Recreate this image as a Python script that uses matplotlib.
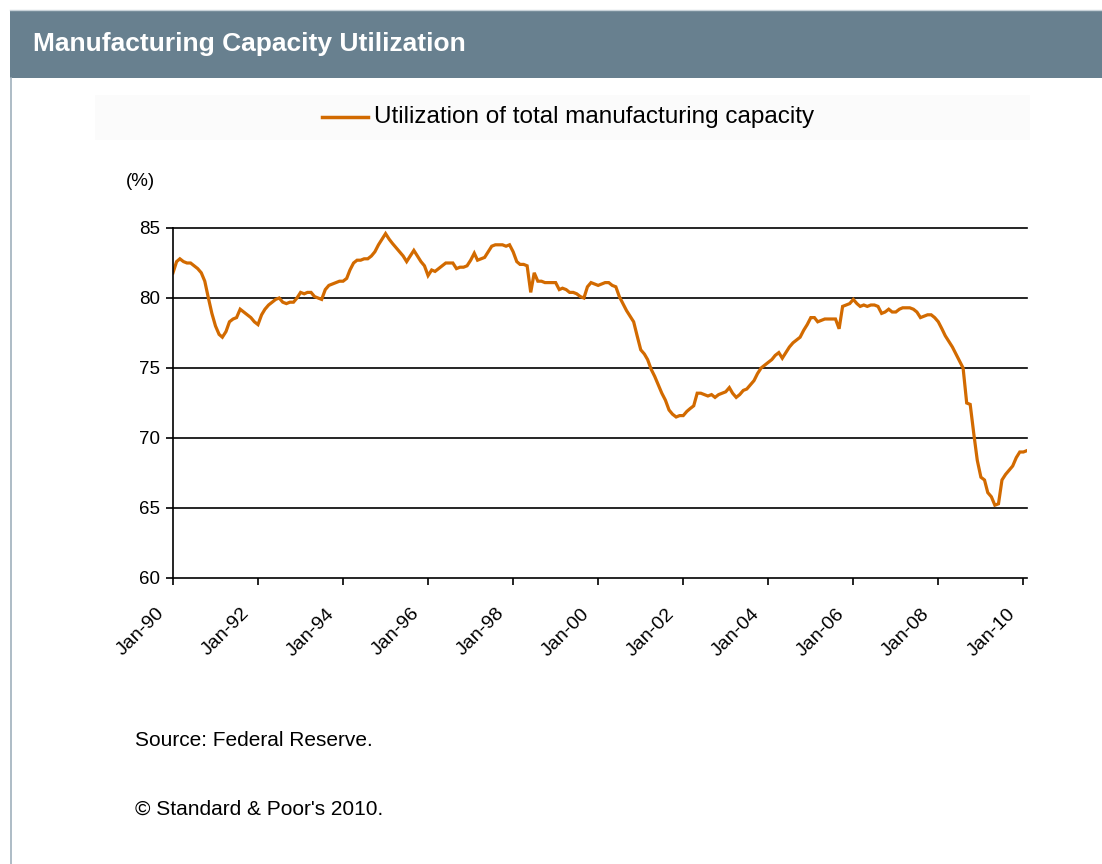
import matplotlib
matplotlib.use("Agg")
import matplotlib.pyplot as plt
from matplotlib.patches import Rectangle
import pandas as pd

plt.rcParams['font.family'] = ['Liberation Sans', 'DejaVu Sans']

title = "Manufacturing Capacity Utilization"
series_label = "Utilization of total manufacturing capacity"
source_text = "Source: Federal Reserve."
copyright_text = "\u00a9 Standard & Poor's 2010."
y_unit = "(%)"
start_month = "1990-01-01"

u1990 = [81.8, 82.6, 82.8, 82.6, 82.5, 82.5, 82.3, 82.1, 81.8, 81.2, 80.0, 78.9]
u1991 = [78.0, 77.4, 77.2, 77.6, 78.3, 78.5, 78.6, 79.2, 79.0, 78.8, 78.6, 78.3]
u1992 = [78.1, 78.8, 79.2, 79.5, 79.7, 79.9, 80.0, 79.7, 79.6, 79.7, 79.7, 80.0]
u1993 = [80.4, 80.3, 80.4, 80.4, 80.1, 80.0, 79.9, 80.6, 80.9, 81.0, 81.1, 81.2]
u1994 = [81.2, 81.4, 82.0, 82.5, 82.7, 82.7, 82.8, 82.8, 83.0, 83.3, 83.8, 84.2]
u1995 = [84.6, 84.2, 83.9, 83.6, 83.3, 83.0, 82.6, 83.0, 83.4, 83.0, 82.6, 82.3]
u1996 = [81.6, 82.0, 81.9, 82.1, 82.3, 82.5, 82.5, 82.5, 82.1, 82.2, 82.2, 82.3]
u1997 = [82.7, 83.2, 82.7, 82.8, 82.9, 83.3, 83.7, 83.8, 83.8, 83.8, 83.7, 83.8]
u1998 = [83.3, 82.6, 82.4, 82.4, 82.3, 80.4, 81.8, 81.2, 81.2, 81.1, 81.1, 81.1]
u1999 = [81.1, 80.6, 80.7, 80.6, 80.4, 80.4, 80.3, 80.1, 80.0, 80.8, 81.1, 81.0]
u2000 = [80.9, 81.0, 81.1, 81.1, 80.9, 80.8, 80.1, 79.6, 79.1, 78.7, 78.3, 77.3]
u2001 = [76.3, 76.0, 75.6, 74.9, 74.4, 73.8, 73.2, 72.7, 72.0, 71.7, 71.5, 71.6]
u2002 = [71.6, 71.9, 72.1, 72.3, 73.2, 73.2, 73.1, 73.0, 73.1, 72.9, 73.1, 73.2]
u2003 = [73.3, 73.6, 73.2, 72.9, 73.1, 73.4, 73.5, 73.8, 74.1, 74.6, 75.0, 75.2]
u2004 = [75.4, 75.6, 75.9, 76.1, 75.7, 76.1, 76.5, 76.8, 77.0, 77.2, 77.7, 78.1]
u2005 = [78.6, 78.6, 78.3, 78.4, 78.5, 78.5, 78.5, 78.5, 77.8, 79.4, 79.5, 79.6]
u2006 = [79.9, 79.6, 79.4, 79.5, 79.4, 79.5, 79.5, 79.4, 78.9, 79.0, 79.2, 79.0]
u2007 = [79.0, 79.2, 79.3, 79.3, 79.3, 79.2, 79.0, 78.6, 78.7, 78.8, 78.8, 78.6]
u2008 = [78.3, 77.8, 77.3, 76.9, 76.5, 76.0, 75.5, 75.0, 72.5, 72.4, 70.3, 68.4]
u2009 = [67.2, 67.0, 66.1, 65.8, 65.2, 65.3, 67.0, 67.4, 67.7, 68.0, 68.6, 69.0]
u2010 = [69.0, 69.1]

values = (u1990 + u1991 + u1992 + u1993 + u1994 + u1995 + u1996 + u1997 + u1998
          + u1999 + u2000 + u2001 + u2002 + u2003 + u2004 + u2005 + u2006 + u2007
          + u2008 + u2009 + u2010)
dates = pd.date_range(start_month, periods=len(values), freq="MS")

y_ticks = [60, 65, 70, 75, 80, 85]
tick_years = list(range(1990, 2011, 2))

W, H = 1102, 864
fig = plt.figure(figsize=(W / 100, H / 100), dpi=100)
fig.patch.set_facecolor("white")

# header bar and frame
fig.patches.append(Rectangle((10 / W, 1 - 78 / H), 1 - 10 / W, 68 / H,
                             transform=fig.transFigure, facecolor="#68808F",
                             edgecolor="none", zorder=0))
fig.lines.append(plt.Line2D([10.5 / W, 10.5 / W], [0, 1 - 78 / H],
                            transform=fig.transFigure, color="#9FB0BC", lw=1.2))
fig.lines.append(plt.Line2D([10 / W, 1], [1 - 9.5 / H, 1 - 9.5 / H],
                            transform=fig.transFigure, color="#C8D2D8", lw=1))
fig.text(33 / W, 1 - 44 / H, title, color="white", fontsize=19,
         fontweight="bold", va="center", ha="left")
# faint legend panel
fig.patches.append(Rectangle((95 / W, 1 - 140 / H), 935 / W, 45 / H,
                             transform=fig.transFigure, facecolor="#FBFBFB",
                             edgecolor="none", zorder=0))

ax = fig.add_axes([173 / W, 1 - 578 / H, 854 / W, 350 / H])
ax.set_facecolor("white")
ax.plot(dates, values, color="#D26A00", lw=2.3, solid_joinstyle="miter")

ax.set_ylim(60, 85)
ax.set_xlim(dates[0], dates[-1])
ax.set_yticks(y_ticks)
ax.set_yticklabels([str(v) for v in y_ticks], fontsize=13.5)
for v in y_ticks[1:]:
    ax.axhline(v, color="black", lw=1.2, zorder=1, clip_on=False)

xt = [pd.Timestamp(f"{y}-01-01") for y in tick_years]
ax.set_xticks(xt)
ax.set_xticklabels([])
for d in xt:
    ax.annotate(d.strftime("%b-%y"), xy=(d, 0), xycoords=("data", "axes fraction"),
                xytext=(-17, -27), textcoords="offset pixels", rotation=45,
                ha="right", va="top", rotation_mode="anchor", fontsize=14,
                annotation_clip=False)

for s in ["top", "right"]:
    ax.spines[s].set_visible(False)
for s in ["left", "bottom"]:
    ax.spines[s].set_color("black")
    ax.spines[s].set_linewidth(1.2)
ax.tick_params(axis="both", direction="out", length=5, width=1.2, color="black")
ax.tick_params(axis="y", pad=4)

# legend
fig.lines.append(plt.Line2D([322 / W, 368 / W], [1 - 117 / H, 1 - 117 / H],
                            transform=fig.transFigure, color="#D26A00", lw=2.5))
fig.text(374 / W, 1 - 117 / H, series_label, fontsize=17.5, va="center", ha="left")

fig.text(126 / W, 1 - 182 / H, y_unit, fontsize=13.5, va="center", ha="left")
fig.text(135 / W, 1 - 741 / H, source_text, fontsize=15, va="center", ha="left")
fig.text(135 / W, 1 - 809 / H, copyright_text, fontsize=15, va="center", ha="left")

fig.savefig("out.png", dpi=100)
